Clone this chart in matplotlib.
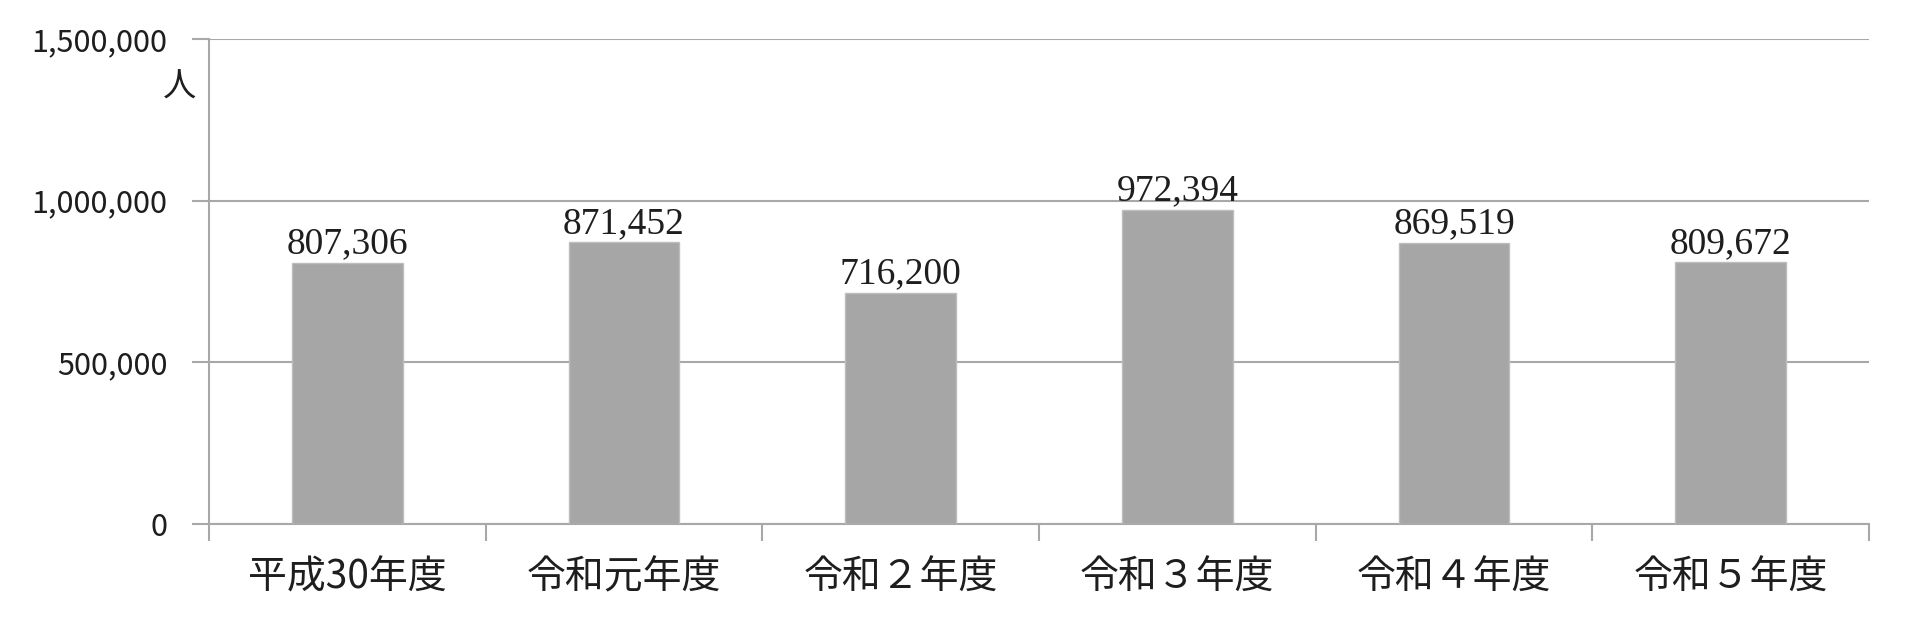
import matplotlib

matplotlib.use("Agg")
import matplotlib.pyplot as plt
from matplotlib.ticker import FuncFormatter

plt.rcParams["font.family"] = ["Noto Sans CJK JP", "DejaVu Sans"]

# data
categories = ["平成30年度", "令和元年度", "令和２年度", "令和３年度", "令和４年度", "令和５年度"]
visitors = [807306, 871452, 716200, 972394, 869519, 809672]
y_ticks = [0, 500000, 1000000, 1500000]

grid_color = "#a8a8a8"
bar_color = "#a6a6a6"
text_color = "#1e1e1e"

fig = plt.figure(figsize=(19.14, 6.24), dpi=100)
ax = fig.add_axes([0.1092, 0.160, 0.8673, 0.7775])

x = list(range(len(categories)))
ax.bar(x, visitors, width=0.4, color=bar_color, edgecolor="#bdbdbd", linewidth=1, zorder=3)

for xi, v in zip(x, visitors):
    ax.annotate(f"{v:,}", (xi, v), xytext=(0, 1), textcoords="offset points",
                ha="center", va="bottom", fontsize=27, color=text_color,
                family=["Liberation Serif", "DejaVu Serif"], zorder=4)

ax.set_xlim(-0.5, len(categories) - 0.5)
ax.set_ylim(0, 1500000)
ax.set_yticks(y_ticks)
ax.yaxis.set_major_formatter(FuncFormatter(lambda v, _: f"{int(v):,}"))
ax.grid(axis="y", color=grid_color, linewidth=1.5, zorder=0)

# category labels centred, tick marks at category boundaries
ax.set_xticks(x)
ax.set_xticklabels(categories, fontsize=28, color=text_color)
ax.tick_params(axis="x", which="major", length=0, pad=24)
ax.set_xticks([i - 0.5 for i in range(len(categories) + 1)], minor=True)
ax.tick_params(axis="x", which="minor", length=12, width=1.5, color=grid_color, direction="out")
ax.tick_params(axis="y", length=12, width=1.5, color=grid_color, labelsize=22,
               labelcolor=text_color, pad=18)

for side in ("top", "right"):
    ax.spines[side].set_visible(False)
for side in ("left", "bottom"):
    ax.spines[side].set_color(grid_color)
    ax.spines[side].set_linewidth(1.5)

fig.text(180 / 1914, 1 - 87 / 624, "人", fontsize=24, color=text_color,
         ha="center", va="center")

fig.savefig("out.png", dpi=100, facecolor="white")
